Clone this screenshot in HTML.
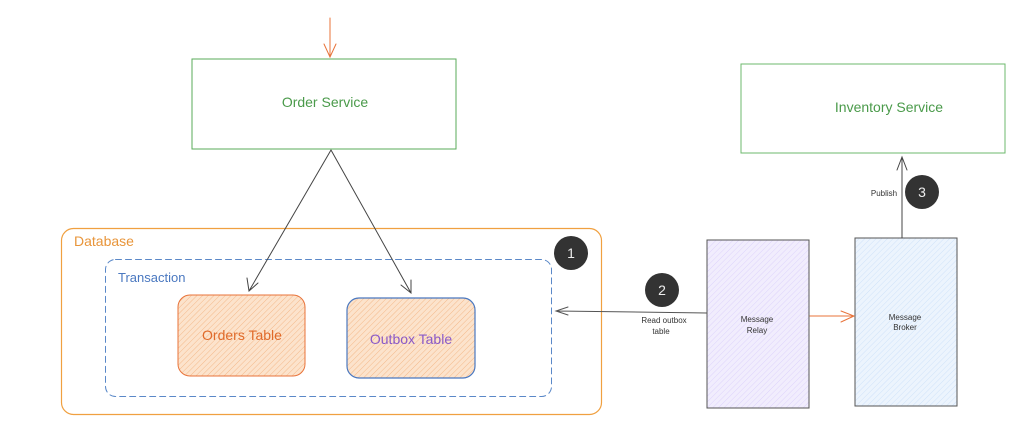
<!DOCTYPE html>
<html><head><meta charset="utf-8"><style>body{margin:0;background:#fff}svg{display:block}text{font-family:"Liberation Sans",sans-serif}</style></head><body>
<svg width="1018" height="447" viewBox="0 0 1018 447" xmlns="http://www.w3.org/2000/svg">
<defs>
<pattern id="ho" width="4" height="4" patternUnits="userSpaceOnUse" patternTransform="rotate(45)"><rect width="4" height="4" fill="#fce3cc"/><line x1="0" y1="0" x2="0" y2="4" stroke="#f4b98a" stroke-width="1"/></pattern>
<pattern id="hp" width="4" height="4" patternUnits="userSpaceOnUse" patternTransform="rotate(45)"><rect width="4" height="4" fill="#f1edfd"/><line x1="0" y1="0" x2="0" y2="4" stroke="#ddd3fb" stroke-width="1"/></pattern>
<pattern id="hb" width="4" height="4" patternUnits="userSpaceOnUse" patternTransform="rotate(45)"><rect width="4" height="4" fill="#ecf4fd"/><line x1="0" y1="0" x2="0" y2="4" stroke="#cfe2f9" stroke-width="1"/></pattern>
</defs>
<g fill="none" stroke-linecap="round">
<rect x="192" y="59" width="264" height="90" stroke="#5aab5a" stroke-width="1"/>
<rect x="741" y="64" width="264" height="89" stroke="#6cb86c" stroke-width="1"/>
<path d="M330 18 V57 M324 44 L330 57 L336 44" stroke="#e8733a" stroke-width="1"/>
<rect x="61.5" y="228.5" width="540" height="186" rx="12" stroke="#f0a040" stroke-width="1.2"/>
<rect x="105.5" y="259.5" width="446" height="137" rx="10" stroke="#5a88c8" stroke-width="1" stroke-dasharray="6 4"/>
<rect x="178" y="295" width="127" height="81" rx="12" fill="url(#ho)" stroke="#e8733a" stroke-width="1"/>
<rect x="347" y="298" width="128" height="80" rx="12" fill="url(#ho)" stroke="#4a78c0" stroke-width="1.2"/>
<path d="M331 150 L249 291 M247 278 L249 291 L258 283 M331 150 L411 293 M401 285 L411 293 L411 280" stroke="#444" stroke-width="1"/>
<rect x="707" y="240" width="102" height="168" fill="url(#hp)" stroke="#555" stroke-width="1"/>
<rect x="855" y="238" width="102" height="168" fill="url(#hb)" stroke="#555" stroke-width="1"/>
<path d="M810 316 L854 316 M841 311 L854 316 L841 322" stroke="#e8733a" stroke-width="1"/>
<path d="M707 313 L556 311 M568 307 L556 311 L568 315" stroke="#555" stroke-width="1"/>
<path d="M902 238 V157 M897 170 L902 157 L907 170" stroke="#444" stroke-width="1"/>
</g>
<g fill="#333"><circle cx="571" cy="253" r="17"/><circle cx="662" cy="290" r="17"/><circle cx="922" cy="192" r="17"/></g>
<g fill="#eee" font-size="14" text-anchor="middle"><text x="571" y="258">1</text><text x="662" y="295">2</text><text x="922" y="197">3</text></g>
<text x="325" y="107" font-size="14" fill="#4a9a4a" text-anchor="middle">Order Service</text>
<text x="889" y="112" font-size="14" fill="#4a9a4a" text-anchor="middle">Inventory Service</text>
<text x="74" y="246" font-size="14" fill="#e8953a">Database</text>
<text x="118" y="282" font-size="13" fill="#4a78c0">Transaction</text>
<text x="242" y="340" font-size="14" fill="#e06a2a" text-anchor="middle">Orders Table</text>
<text x="411" y="344" font-size="14" fill="#8a5ac8" text-anchor="middle">Outbox Table</text>
<g font-size="8" fill="#333" text-anchor="middle"><text x="757" y="322">Message</text><text x="757" y="333">Relay</text><text x="905" y="320">Message</text><text x="905" y="330">Broker</text><text x="664" y="323">Read outbox</text><text x="661" y="334">table</text><text x="884" y="196">Publish</text></g>
</svg>
</body></html>
